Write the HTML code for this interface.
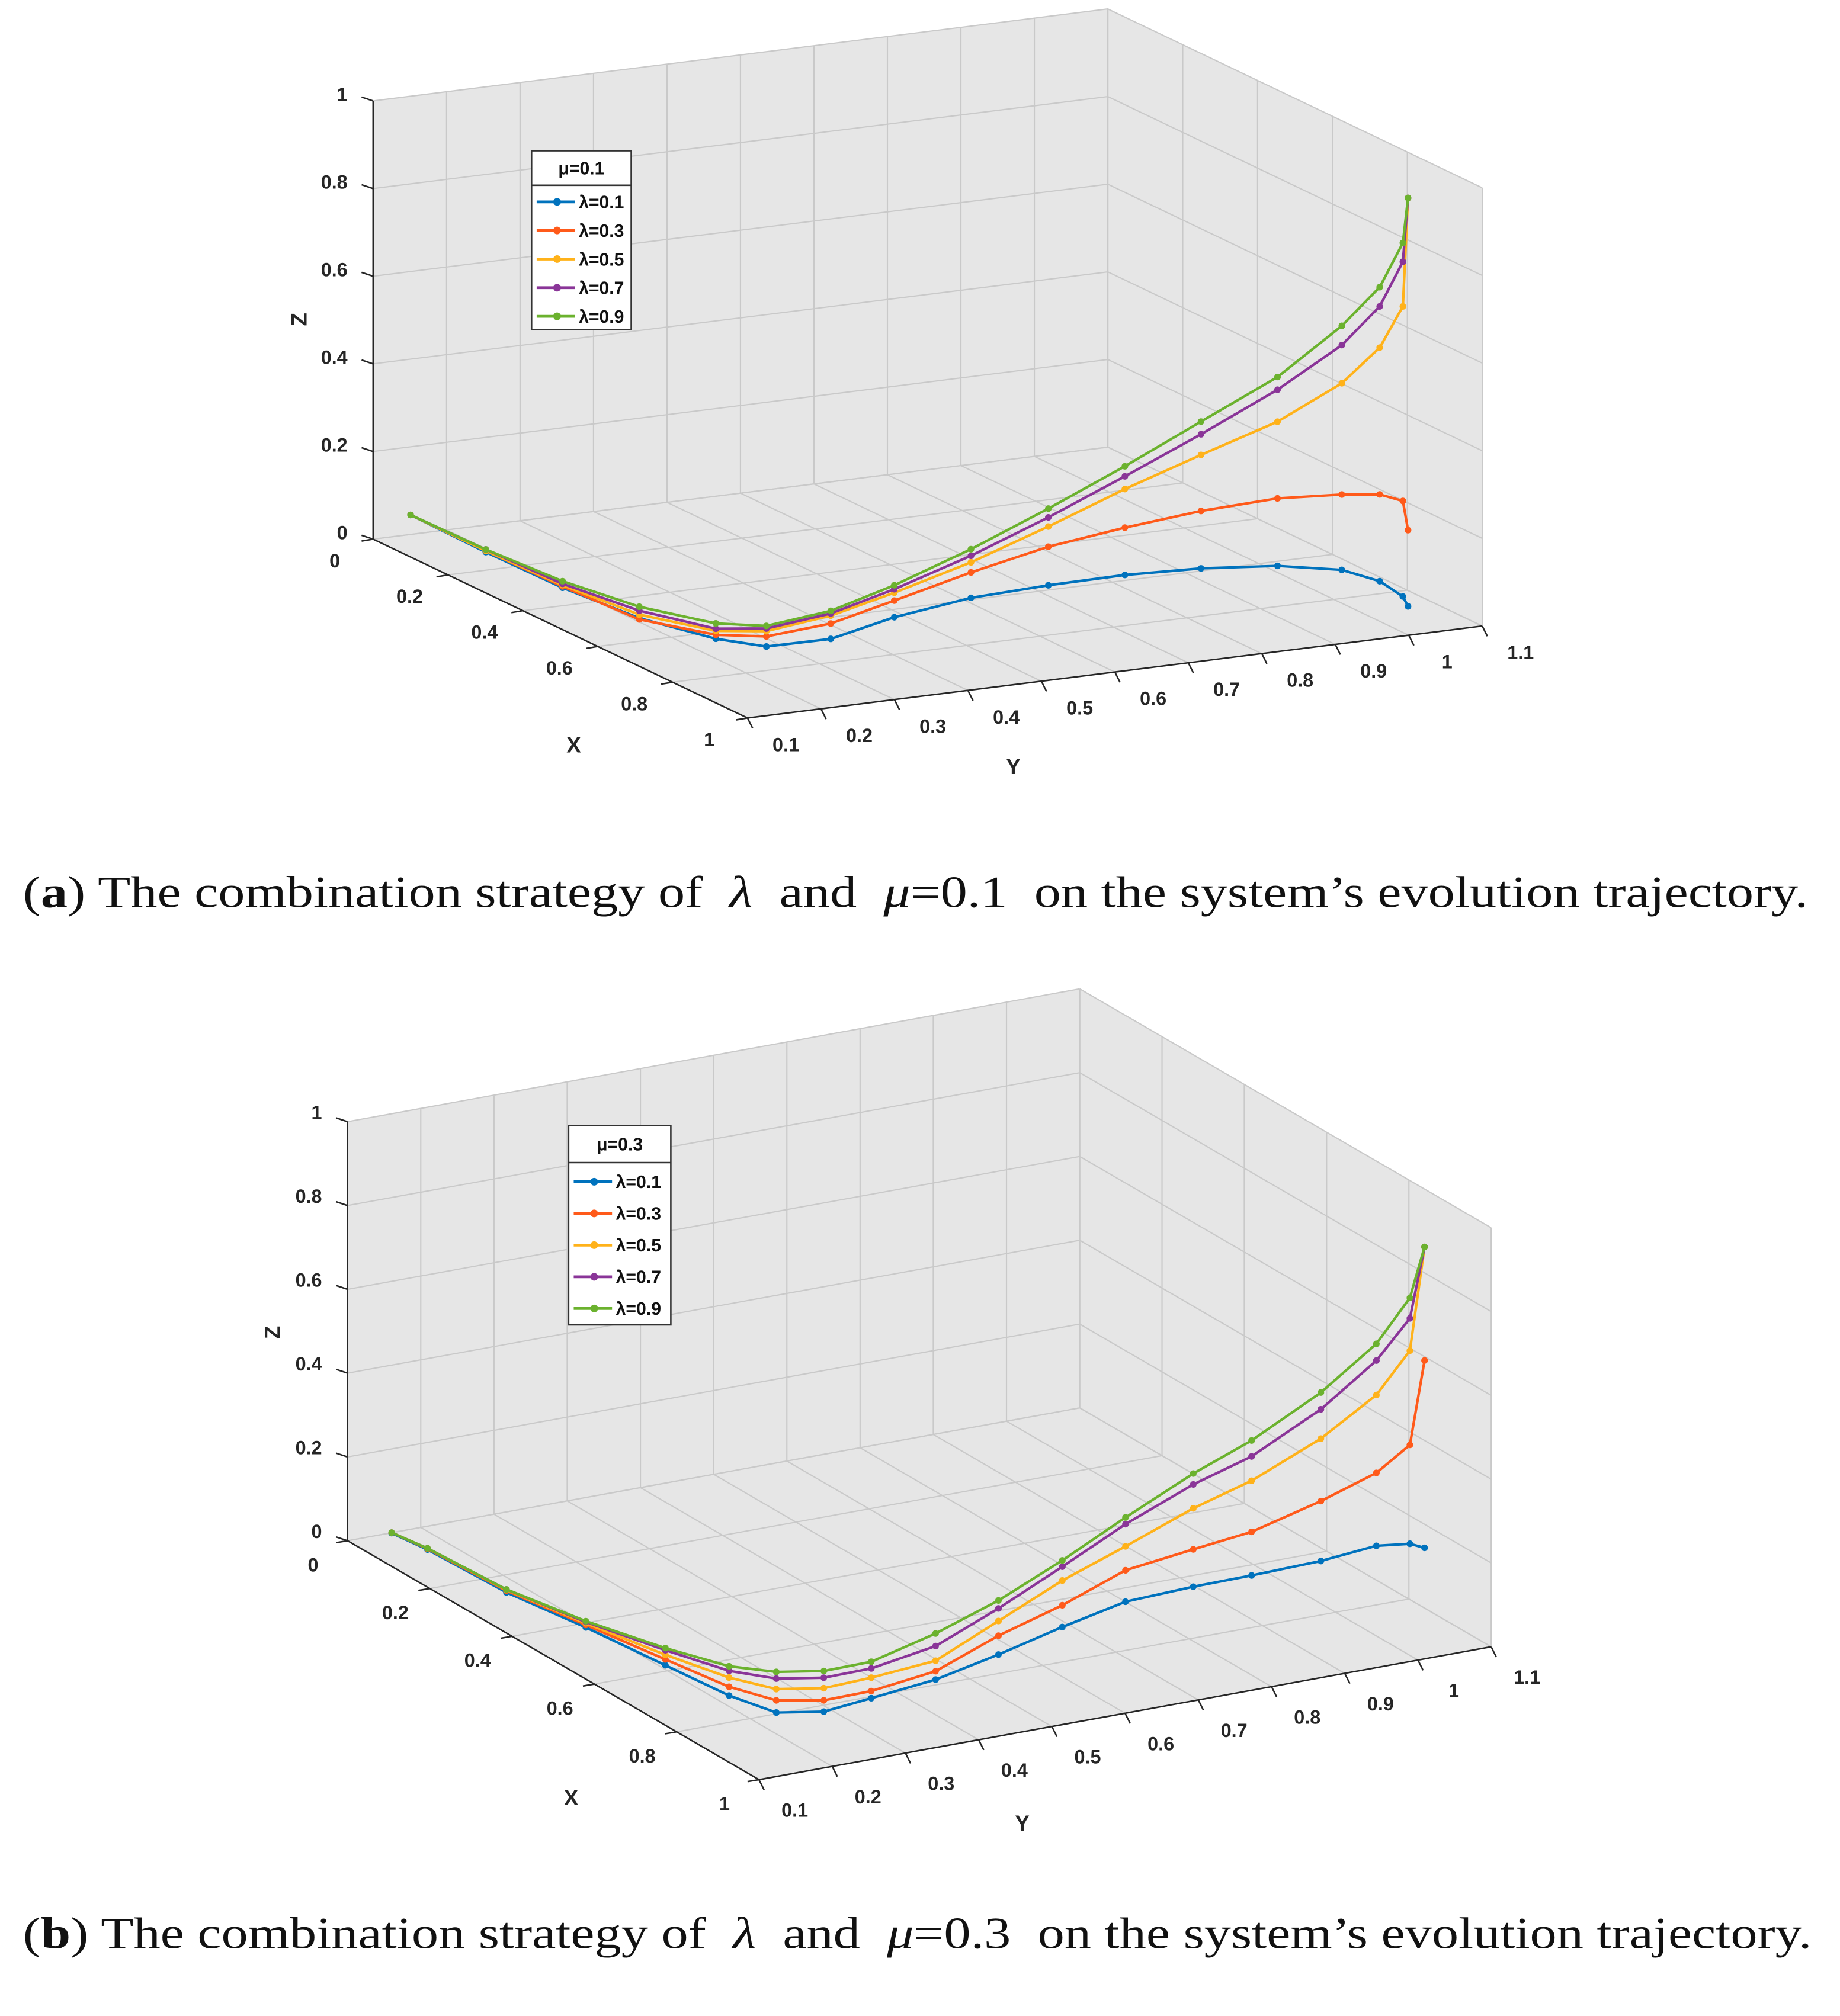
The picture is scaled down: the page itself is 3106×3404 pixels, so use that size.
<!DOCTYPE html>
<html><head><meta charset="utf-8"><title>Evolution trajectories</title>
<style>
html,body{margin:0;padding:0;background:#fff;}
svg{display:block;}
</style></head>
<body>
<svg id="fig" xmlns="http://www.w3.org/2000/svg" width="3106" height="3404" viewBox="0 0 1440 1578" preserveAspectRatio="none">
<rect x="0" y="0" width="1440" height="1578" fill="#ffffff"/>
<g id="panelA"></g>
<g id="panelB"></g>
<text x="18" y="710" font-family="'Liberation Serif', serif" font-size="35" fill="#111" textLength="1397" lengthAdjust="spacingAndGlyphs" xml:space="preserve">(<tspan font-weight="bold">a</tspan>) The combination strategy of  <tspan font-style="italic">λ</tspan>  and  <tspan font-style="italic">μ</tspan>=0.1  on the system’s evolution trajectory.</text>
<text x="18" y="1525" font-family="'Liberation Serif', serif" font-size="35" fill="#111" textLength="1400" lengthAdjust="spacingAndGlyphs" xml:space="preserve">(<tspan font-weight="bold">b</tspan>) The combination strategy of  <tspan font-style="italic">λ</tspan>  and  <tspan font-style="italic">μ</tspan>=0.3  on the system’s evolution trajectory.</text>
</svg>
<script>
// ---- data: ticks ----
const X_TICKS = [0, 0.2, 0.4, 0.6, 0.8, 1];
const X_TICK_LABELS = ['0', '0.2', '0.4', '0.6', '0.8', '1'];
const Y_TICKS = [0.1, 0.2, 0.3, 0.4, 0.5, 0.6, 0.7, 0.8, 0.9, 1, 1.1];
const Y_TICK_LABELS = ['0.1', '0.2', '0.3', '0.4', '0.5', '0.6', '0.7', '0.8', '0.9', '1', '1.1'];
const Z_TICKS = [0, 0.2, 0.4, 0.6, 0.8, 1];
const Z_TICK_LABELS = ['0', '0.2', '0.4', '0.6', '0.8', '1'];
const SERIES_LABELS = ['λ=0.1', 'λ=0.3', 'λ=0.5', 'λ=0.7', 'λ=0.9'];
const LEGEND_TITLES = ['μ=0.1', 'μ=0.3'];

// ---- data: panel (a), mu = 0.1 ----
const A_X = [0.1, 0.25, 0.4, 0.55, 0.68, 0.75, 0.82, 0.87, 0.91, 0.94, 0.96, 0.975, 0.985, 0.99, 0.995, 1, 1];
const A_Y = [0.1, 0.126, 0.154, 0.182, 0.22, 0.253, 0.305, 0.366, 0.45, 0.54, 0.634, 0.73, 0.829, 0.914, 0.963, 0.992, 0.999];
const A_Z_L01 = [0.096, 0.067, 0.041, 0.027, 0.025, 0.029, 0.064, 0.121, 0.164, 0.186, 0.198, 0.199, 0.188, 0.163, 0.129, 0.09, 0.066];
const A_Z_L03 = [0.096, 0.07, 0.044, 0.024, 0.034, 0.052, 0.099, 0.159, 0.222, 0.274, 0.306, 0.33, 0.342, 0.335, 0.327, 0.308, 0.24];
const A_Z_L05 = [0.096, 0.07, 0.047, 0.035, 0.043, 0.064, 0.117, 0.177, 0.245, 0.32, 0.394, 0.458, 0.517, 0.589, 0.662, 0.752, 0.998];
const A_Z_L07 = [0.096, 0.073, 0.05, 0.044, 0.048, 0.07, 0.122, 0.185, 0.26, 0.341, 0.423, 0.505, 0.59, 0.676, 0.756, 0.854, 0.998];
const A_Z_L09 = [0.096, 0.073, 0.056, 0.053, 0.06, 0.076, 0.128, 0.194, 0.275, 0.361, 0.446, 0.534, 0.619, 0.72, 0.8, 0.897, 0.998];

// ---- data: panel (b), mu = 0.3 ----
const B_X = [0.1, 0.18, 0.37, 0.54, 0.68, 0.76, 0.8, 0.83, 0.86, 0.89, 0.92, 0.94, 0.96, 0.97, 0.98, 0.99, 0.995, 1, 1];
const B_Y = [0.104, 0.108, 0.109, 0.122, 0.152, 0.194, 0.236, 0.284, 0.332, 0.403, 0.472, 0.548, 0.623, 0.71, 0.784, 0.873, 0.946, 0.989, 1.009];
const B_Z_L01 = [0.074, 0.079, 0.085, 0.094, 0.074, 0.034, 0.003, 0.007, 0.041, 0.08, 0.135, 0.188, 0.236, 0.25, 0.259, 0.271, 0.287, 0.281, 0.265];
const B_Z_L03 = [0.075, 0.081, 0.089, 0.1, 0.088, 0.055, 0.032, 0.034, 0.058, 0.1, 0.18, 0.24, 0.311, 0.339, 0.363, 0.414, 0.461, 0.517, 0.712];
const B_Z_L05 = [0.075, 0.082, 0.091, 0.104, 0.099, 0.077, 0.059, 0.063, 0.09, 0.125, 0.215, 0.299, 0.368, 0.437, 0.485, 0.563, 0.647, 0.742, 0.983];
const B_Z_L07 = [0.075, 0.082, 0.092, 0.107, 0.11, 0.093, 0.084, 0.088, 0.112, 0.16, 0.245, 0.332, 0.421, 0.494, 0.543, 0.633, 0.729, 0.819, 0.983];
const B_Z_L09 = [0.075, 0.082, 0.092, 0.109, 0.115, 0.104, 0.1, 0.104, 0.128, 0.19, 0.264, 0.347, 0.437, 0.52, 0.581, 0.673, 0.769, 0.868, 0.983];

// ---- styles ----
const COLORS = ['#0072BD', '#FF5A1A', '#FFB21A', '#8A3598', '#6BB22E'];
const NS = 'http://www.w3.org/2000/svg';
const FONT = "'Liberation Sans Narrow','Liberation Sans',Arial,sans-serif";

function el(tag, attrs, parent) {
  const e = document.createElementNS(NS, tag);
  for (const k in attrs) e.setAttribute(k, attrs[k]);
  parent.appendChild(e);
  return e;
}

function makeProj(o, ux, uy, uz) {
  return function (x, y, z) {
    return [o[0] + x * ux[0] + (y - 0.1) * uy[0] + z * uz[0],
            o[1] + x * ux[1] + (y - 0.1) * uy[1] + z * uz[1]];
  };
}

function pts(list) { return list.map(p => p[0].toFixed(2) + ',' + p[1].toFixed(2)).join(' '); }

function drawPanel(g, P, cfg, xs, ys, zsList, legendTitle) {
  const XMIN = 0, XMAX = 1, YMIN = 0.1, YMAX = 1.1, ZMIN = 0, ZMAX = 1;
  const leftWall = el('polygon', {points: pts([P(XMIN, YMIN, ZMIN), P(XMIN, YMAX, ZMIN), P(XMIN, YMAX, ZMAX), P(XMIN, YMIN, ZMAX)]), fill: '#e6e6e6', stroke: 'none'}, g);
  
  
  const rightWall = el('polygon', {points: pts([P(XMIN, YMAX, ZMIN), P(XMAX, YMAX, ZMIN), P(XMAX, YMAX, ZMAX), P(XMIN, YMAX, ZMAX)]), fill: '#e6e6e6', stroke: 'none'}, g);
  
  
  const floor = el('polygon', {points: pts([P(XMIN, YMIN, ZMIN), P(XMAX, YMIN, ZMIN), P(XMAX, YMAX, ZMIN), P(XMIN, YMAX, ZMIN)]), fill: '#e6e6e6', stroke: 'none'}, g);
  
  

  const grid = el('g', {stroke: '#c9c9c9', 'stroke-width': 1, fill: 'none'}, g);
  
  
  function gl(a, b) { const l = el('line', {x1: a[0], y1: a[1], x2: b[0], y2: b[1]}, grid); return l; }
  Y_TICKS.forEach(v => { gl(P(XMIN, v, ZMIN), P(XMIN, v, ZMAX)); gl(P(XMIN, v, ZMIN), P(XMAX, v, ZMIN)); });
  X_TICKS.forEach(v => { gl(P(v, YMAX, ZMIN), P(v, YMAX, ZMAX)); gl(P(v, YMIN, ZMIN), P(v, YMAX, ZMIN)); });
  Z_TICKS.forEach(v => { gl(P(XMIN, YMIN, v), P(XMIN, YMAX, v)); gl(P(XMIN, YMAX, v), P(XMAX, YMAX, v)); });

  const ax = el('g', {stroke: '#262626', 'stroke-width': 1.2, fill: 'none'}, g);
  
  
  function al(a, b) { el('line', {x1: a[0], y1: a[1], x2: b[0], y2: b[1]}, ax); }
  al(P(XMIN, YMIN, ZMIN), P(XMIN, YMIN, ZMAX));
  al(P(XMIN, YMIN, ZMIN), P(XMAX, YMIN, ZMIN));
  al(P(XMAX, YMIN, ZMIN), P(XMAX, YMAX, ZMIN));

  const tl = el('g', {'font-family': FONT, 'font-size': 15, 'font-weight': 'bold', fill: '#262626'}, g);
  
  
  Z_TICKS.forEach((v, i) => {
    const p = P(XMIN, YMIN, v);
    al(p, [p[0] - 9, p[1] - 3]);
    const t = el('text', {x: p[0] - 20, y: p[1] - cfg.zLabDy + 5, 'text-anchor': 'end'}, tl);
    t.textContent = Z_TICK_LABELS[i];
    
    
  });
  X_TICKS.forEach((v, i) => {
    const p = P(v, YMIN, ZMIN);
    al(p, [p[0] - 9, p[1] + 1.5]);
    const t = el('text', {x: p[0] + cfg.xLab[0], y: p[1] + cfg.xLab[1] + 5, 'text-anchor': 'middle'}, tl);
    t.textContent = X_TICK_LABELS[i];
    
    
  });
  Y_TICKS.forEach((v, i) => {
    const p = P(XMAX, v, ZMIN);
    al(p, [p[0] + 4, p[1] + 8]);
    const t = el('text', {x: p[0] + cfg.yLab[0], y: p[1] + cfg.yLab[1] + 5, 'text-anchor': 'middle'}, tl);
    t.textContent = Y_TICK_LABELS[i];
    
    
  });
  const tx = el('text', {x: cfg.xTitle[0], y: cfg.xTitle[1] + 6, 'text-anchor': 'middle', 'font-family': FONT, 'font-size': 17, 'font-weight': 'bold', fill: '#262626'}, g);
  tx.textContent = 'X';
  
  
  const ty = el('text', {x: cfg.yTitle[0], y: cfg.yTitle[1] + 6, 'text-anchor': 'middle', 'font-family': FONT, 'font-size': 17, 'font-weight': 'bold', fill: '#262626'}, g);
  ty.textContent = 'Y';
  
  
  const tz = el('text', {x: 0, y: 0, 'text-anchor': 'middle', 'font-family': FONT, 'font-size': 17, 'font-weight': 'bold', fill: '#262626', transform: 'translate(' + (cfg.zTitle[0] + 6) + ',' + cfg.zTitle[1] + ') rotate(-90)'}, g);
  tz.textContent = 'Z';
  
  

  zsList.forEach((zs, si) => {
    const sg = el('g', {}, g);
    
    
    const pp = xs.map((x, i) => P(x, ys[i], zs[i]));
    const line = el('polyline', {points: pts(pp), fill: 'none', stroke: COLORS[si], 'stroke-width': 2, 'stroke-linejoin': 'round'}, sg);
    
    
    pp.forEach(p => {
      const c = el('circle', {cx: p[0], cy: p[1], r: 2.6, fill: COLORS[si]}, sg);
      
      
    });
  });

  const L = cfg.legend;
  const lg = el('g', {'font-family': FONT, 'font-size': 14, 'font-weight': 'bold', fill: '#111'}, g);
  
  
  el('rect', {x: L.x, y: L.y, width: L.w, height: L.h, fill: '#ffffff', stroke: '#333', 'stroke-width': 1.2}, lg);
  el('line', {x1: L.x, y1: L.y + L.head, x2: L.x + L.w, y2: L.y + L.head, stroke: '#333', 'stroke-width': 1.2}, lg);
  const lt = el('text', {x: L.x + L.w / 2, y: L.y + L.head / 2 + 5, 'text-anchor': 'middle'}, lg);
  lt.textContent = legendTitle;
  
  
  SERIES_LABELS.forEach((lab, i) => {
    const yy = L.y + L.head + L.first + i * L.step;
    const eg = el('g', {}, lg);
    
    
    el('line', {x1: L.x + 4, y1: yy, x2: L.x + 34, y2: yy, stroke: COLORS[i], 'stroke-width': 2.2}, eg);
    el('circle', {cx: L.x + 20, cy: yy, r: 3, fill: COLORS[i]}, eg);
    const t = el('text', {x: L.x + 37, y: yy + 5}, eg);
    t.textContent = lab;
  });
}

const PA = makeProj([292, 422], [293, 140], [575, -72], [0, -343]);
const PB = makeProj([272, 1206], [322, 187], [573, -104], [0, -328]);

drawPanel(document.getElementById('panelA'), PA, {
  zLabDy: 5, xLab: [-30, 17], yLab: [30, 21],
  xTitle: [449, 583], yTitle: [793, 600], zTitle: [234, 250],
  legend: {x: 416, y: 118, w: 78, h: 140, head: 27, first: 13, step: 22.4}
}, A_X, A_Y, [A_Z_L01, A_Z_L03, A_Z_L05, A_Z_L07, A_Z_L09], LEGEND_TITLES[0]);

drawPanel(document.getElementById('panelB'), PB, {
  zLabDy: 7, xLab: [-27, 19], yLab: [28, 24],
  xTitle: [447, 1407], yTitle: [800, 1427], zTitle: [213, 1043],
  legend: {x: 445, y: 881, w: 80, h: 156, head: 29, first: 15, step: 24.8}
}, B_X, B_Y, [B_Z_L01, B_Z_L03, B_Z_L05, B_Z_L07, B_Z_L09], LEGEND_TITLES[1]);
</script>
</body></html>
